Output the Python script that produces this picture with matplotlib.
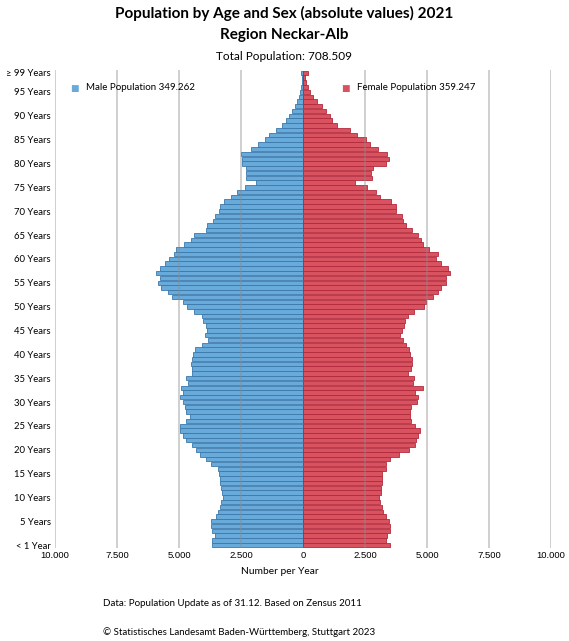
import numpy as np
import matplotlib.pyplot as plt

# Age groups 0..99 (99 = "99 and older")
ages = np.arange(100)

male = [3670, 3680, 3530, 3670, 3700, 3700, 3490, 3420, 3350, 3310,
        3220, 3270, 3310, 3340, 3350, 3400, 3420, 3700, 3900, 4170,
        4300, 4460, 4730, 4840, 4970, 4970, 4700, 4570, 4700, 4770,
        4820, 4950, 4820, 4920, 4650, 4720, 4490, 4490, 4500, 4460,
        4420, 4370, 4080, 3840, 3960, 3880, 3930, 4020, 4060, 4390,
        4680, 4830, 5300, 5440, 5710, 5840, 5750, 5940, 5770, 5570,
        5400, 5200, 5130, 4810, 4530, 4390, 3930, 3890, 3650, 3560,
        3400, 3360, 3200, 2890, 2660, 2350, 1880, 2280, 2280, 2310,
        2460, 2480, 2510, 2080, 1810, 1540, 1380, 1070, 850, 670,
        580, 440, 310, 240, 160, 110, 70, 45, 40, 70]

female = [3490, 3360, 3380, 3490, 3520, 3460, 3330, 3220, 3180, 3090,
          3060, 3130, 3140, 3170, 3180, 3200, 3330, 3340, 3490, 3890,
          4270, 4500, 4570, 4620, 4700, 4500, 4360, 4320, 4320, 4340,
          4590, 4630, 4530, 4830, 4430, 4470, 4230, 4360, 4390, 4410,
          4320, 4270, 4140, 4030, 3920, 3990, 4080, 4100, 4230, 4460,
          4860, 4940, 5240, 5440, 5570, 5750, 5770, 5910, 5840, 5570,
          5350, 5440, 5080, 4830, 4740, 4630, 4390, 4160, 4030, 4000,
          3730, 3730, 3560, 3120, 2930, 2590, 2080, 2780, 2750, 2820,
          3330, 3470, 3400, 3020, 2710, 2550, 2190, 1880, 1380, 1170,
          1100, 940, 770, 580, 400, 300, 200, 130, 90, 200]

ytick_ages = [0, 5, 10, 15, 20, 25, 30, 35, 40, 45, 50, 55, 60, 65, 70, 75, 80, 85, 90, 95, 99]
ytick_labels = ['< 1 Year'] + [f'{a} Years' for a in ytick_ages[1:-1]] + ['\u2265 99 Years']
xticks = [-10000, -7500, -5000, -2500, 0, 2500, 5000, 7500, 10000]
xtick_labels = ['10.000', '7.500', '5.000', '2.500', '0', '2.500', '5.000', '7.500', '10.000']

blue, blue_edge = '#68AADA', '#3B78AB'
red, red_edge = '#D9525F', '#B3293B'

fig = plt.figure(figsize=(5.69, 6.41), dpi=100)
ax = fig.add_axes([0.0967, 0.1451, 0.8717, 0.7457])

ax.barh(ages, [-v for v in male], height=0.92, color=blue, edgecolor=blue_edge, linewidth=0.6, zorder=2)
ax.barh(ages, female, height=0.92, color=red, edgecolor=red_edge, linewidth=0.6, zorder=2)

for xv in [-10000, -7500, -5000, -2500, 2500, 5000, 7500, 10000]:
    ax.axvline(xv, color='#8C8C8C', alpha=0.45, linewidth=1.3, zorder=3)

ax.set_xlim(-10000, 10000)
ax.set_ylim(-0.6, 99.6)
for s in ax.spines.values():
    s.set_visible(False)

ax.set_yticks(ytick_ages)
ax.set_yticklabels(ytick_labels, fontsize=6.8, family='Lato')
ax.set_xticks(xticks)
ax.set_xticklabels(xtick_labels, fontsize=6.8, family='Liberation Sans')
ax.tick_params(length=0, pad=2)
ax.tick_params(axis='y', pad=3)

fig.text(280 / 569, 1 - 572 / 641, 'Number per Year', fontsize=7.4, family='Lato',
         ha='center', va='center')

# legend entries
fig.text(70 / 569, 1 - 88 / 641, '\u25a0', color=blue, fontsize=6.5, va='center', ha='left')
fig.text(86 / 569, 1 - 88 / 641, 'Male Population 349.262', fontsize=7, family='Lato',
         va='center', ha='left')
fig.text(341 / 569, 1 - 88 / 641, '\u25a0', color=red, fontsize=6.5, va='center', ha='left')
fig.text(357 / 569, 1 - 88 / 641, 'Female Population 359.247', fontsize=7, family='Lato',
         va='center', ha='left')

fig.text(0.5, 1 - 13 / 641, 'Population by Age and Sex (absolute values) 2021', fontsize=11,
         fontweight='bold', family='Lato', ha='center', va='center')
fig.text(0.5, 1 - 35 / 641, 'Region Neckar-Alb', fontsize=11, fontweight='bold', family='Lato',
         ha='center', va='center')
fig.text(0.5, 1 - 57 / 641, 'Total Population: 708.509', fontsize=8.5, family='Lato',
         ha='center', va='center')

fig.text(103 / 569, 1 - 604 / 641, 'Data: Population Update as of 31.12. Based on Zensus 2011',
         fontsize=7, family='Lato', ha='left', va='center')
fig.text(103 / 569, 1 - 632 / 641, '\u00a9 Statistisches Landesamt Baden-W\u00fcrttemberg, Stuttgart 2023',
         fontsize=7, family='Lato', ha='left', va='center')

fig.savefig('out.png', dpi=100)
